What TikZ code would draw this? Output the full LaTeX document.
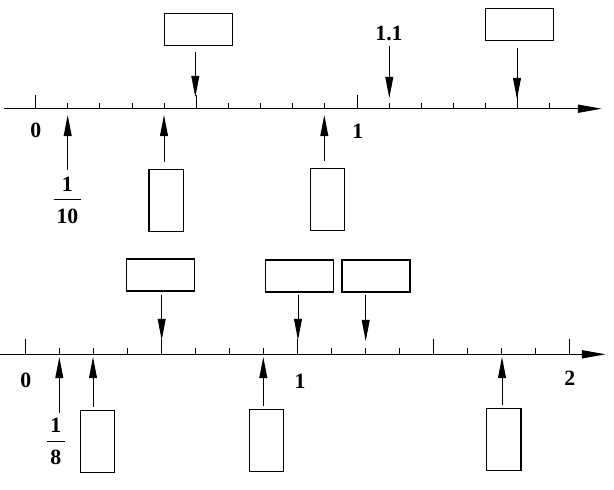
\documentclass[tikz,border=0pt]{standalone}
\usepackage{amsmath}
\usepackage{fontspec}
\setmainfont{Liberation Serif}
\usetikzlibrary{arrows.meta, positioning, calc}

\tikzset{
  lab/.style={font=\fontsize{15.5}{18}\selectfont\bfseries},
  boxwide/.style={draw, line width=0.9pt, inner sep=0pt, minimum width=1.7cm, minimum height=0.8cm},
  boxtall/.style={draw, line width=0.9pt, inner sep=0pt, minimum width=0.86cm, minimum height=1.55cm},
  pt/.style={-{Triangle[length=15pt, width=5.6pt]}, line width=0.7pt, shorten <=4.5pt},
  axis/.style={-{Triangle[length=17pt, width=5.8pt]}, line width=0.8pt}
}

\begin{document}
\begin{tikzpicture}[x=0.025cm, y=-0.025cm]
\useasboundingbox (0,0) rectangle (614,489);
% Upper number line: 0 to 1.6, step 0.1
\draw[axis] (4,108.7) -- (601.7,108.7);
\foreach \k in {0,...,16}
  \draw[line width=0.7pt] (35.7+32.13*\k,108.7) -- ++(0,-6);
\foreach \k in {0,5,10,15}
  \draw[line width=0.7pt] (35.7+32.13*\k,108.7) -- ++(0,-13.4);
% Labels under the upper line
\node[lab] (zeroA) at (35.7,130.5) {0};
\node[lab] (oneA) at (357.8,130.8) {1};
\node[lab, anchor=base] (tenth) at (67.4,204.7) {$\dfrac{\textbf{1}}{\rule{0pt}{15pt}\kern2pt\textbf{10}\kern2pt}$};
\node[lab] (elev) at (389,33.3) {1.1};
% Blank boxes of the upper line
\node[boxwide] (bA) at (198.2,29.3) {};
\node[boxwide] (bB) at (519.5,24.8) {};
\node[boxtall] (bC) at (166.2,200.2) {};
\node[boxtall] (bD) at (327.5,199.3) {};
% Arrow tips on the upper line
\coordinate (tA) at (195.3,97);
\coordinate (tE) at (389.3,98);
\coordinate (tB) at (517,99);
\coordinate (tT) at (67.7,115);
\coordinate (tC) at (164,115);
\coordinate (tD) at (324.3,115);
% Arrows of the upper line
\draw[pt] (bA.south -| tA) -- (tA);
\draw[pt, shorten <=0pt] (elev.south -| tE) -- (tE);
\draw[pt] (bB.south -| tB) -- (tB);
\draw[pt, shorten <=1pt] (tenth.north -| tT) -- (tT);
\draw[pt] (bC.north -| tC) -- (tC);
\draw[pt] (bD.north -| tD) -- (tD);

% Lower number line: 0 to 2, step 1/8
\draw[axis] (0,354.3) -- (605.7,354.3);
\foreach \k in {0,...,16}
  \draw[line width=0.7pt] (25.7+34*\k,354.3) -- ++(0,-6.6);
\foreach \k in {0,4,8,12,16}
  \draw[line width=0.7pt] (25.7+34*\k,354.3) -- ++(0,-15);
% Labels under the lower line
\node[lab] (zeroB) at (25.7,380) {0};
\node[lab] (oneB) at (300,381.7) {1};
\node[lab] (twoB) at (569.7,378.3) {2};
\node[lab, anchor=base] (eighth) at (55.8,446.4) {$\dfrac{\textbf{1}}{\rule{0pt}{14.5pt}\kern2.5pt\textbf{8}\kern2.5pt}$};
% Blank boxes of the lower line
\node[boxwide] (bE) at (160.5,274.9) {};
\node[boxwide] (bF) at (299.3,276) {};
\node[boxwide] (bG) at (375.9,276) {};
\node[boxtall] (bH) at (97.5,441.7) {};
\node[boxtall] (bI) at (266.5,440.5) {};
\node[boxtall] (bJ) at (503.8,439.5) {};
% Arrow tips on the lower line
\coordinate (tE2) at (161.7,340);
\coordinate (tF) at (298,340);
\coordinate (tG) at (365.7,341);
\coordinate (tH8) at (59.3,357);
\coordinate (tH) at (93,357);
\coordinate (tI) at (263.3,357);
\coordinate (tJ) at (502,357);
% Arrows of the lower line
\draw[pt, shorten <=2.3pt] (bE.south -| tE2) -- (tE2);
\draw[pt, shorten <=2pt] (bF.south -| tF) -- (tF);
\draw[pt, shorten <=2pt] (bG.south -| tG) -- (tG);
\draw[pt, shorten <=0pt] (eighth.north -| tH8) -- (tH8);
\draw[pt, shorten <=2.3pt] (bH.north -| tH) -- (tH);
\draw[pt, shorten <=2.3pt] (bI.north -| tI) -- (tI);
\draw[pt, shorten <=2pt] (bJ.north -| tJ) -- (tJ);
\end{tikzpicture}
\end{document}
